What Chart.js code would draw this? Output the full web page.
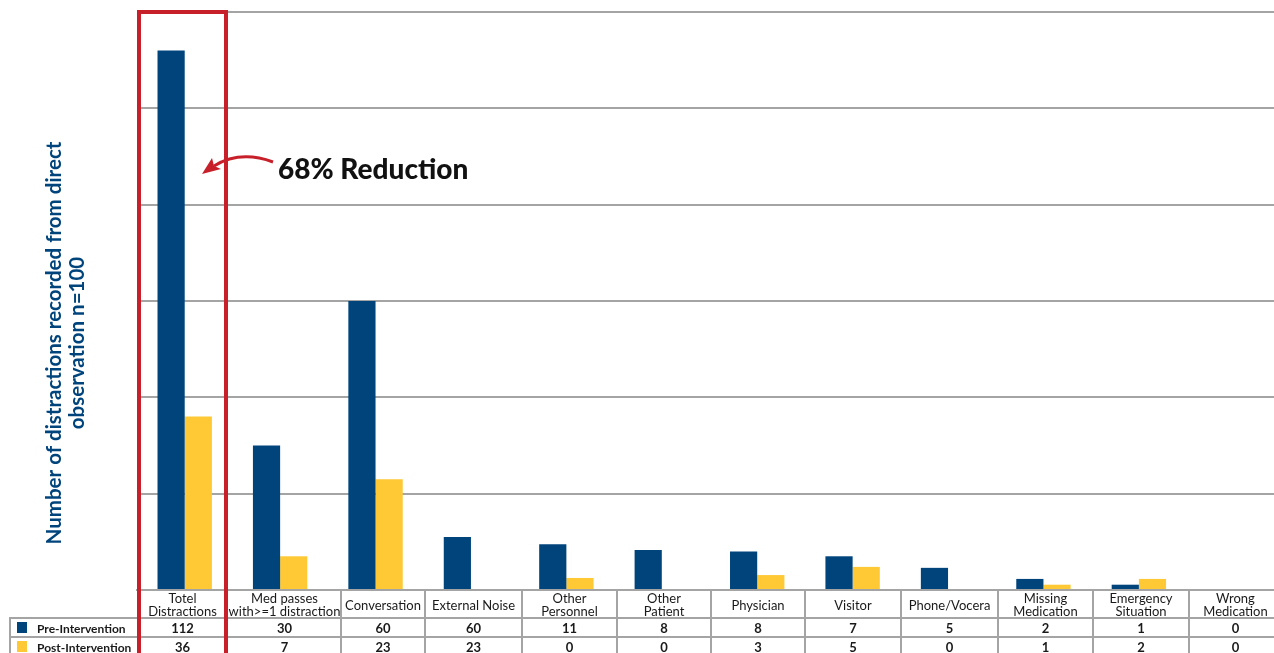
<!DOCTYPE html>
<html>
<head>
<meta charset="utf-8">
<script src="https://cdn.jsdelivr.net/npm/chart.js@4.4.1/dist/chart.umd.min.js"></script>
<style>
  html, body { margin: 0; padding: 0; background: #fff; overflow: hidden; }
  #wrap { position: relative; width: 1282px; height: 653px; }
</style>
</head>
<body>
<div id="wrap"><canvas id="grafik"></canvas></div>
<script>
// data
const categories = [
  ['Totel', 'Distractions'],
  ['Med passes', 'with>=1 distraction'],
  ['Conversation'],
  ['External Noise'],
  ['Other', 'Personnel'],
  ['Other', 'Patient'],
  ['Physician'],
  ['Visitor'],
  ['Phone/Vocera'],
  ['Missing', 'Medication'],
  ['Emergency', 'Situation'],
  ['Wrong', 'Medication']
];
const preValues = [112, 30, 60, 11, 9.5, 8.3, 8, 7, 4.6, 2.3, 1.1, 0];
const postValues = [36, 7, 23, 0, 2.5, 0, 3.1, 4.8, 0, 1.1, 2.3, 0];
const tablePre = ['112', '30', '60', '60', '11', '8', '8', '7', '5', '2', '1', '0'];
const tablePost = ['36', '7', '23', '23', '0', '0', '3', '5', '0', '1', '2', '0'];
const seriesNames = ['Pre-Intervention', 'Post-Intervention'];
const yMax = 120;
const yStep = 20;

const BLUE = '#00447c';
const YELLOW = '#fec934';
const RED = '#c8202a';
const GRID = '#a4a4a4';
const FONT = 'Lato, "Open Sans", sans-serif';

// table column edges (layout only)
const colEdges = [137, 228, 341, 425, 522, 617, 711, 805, 901, 998, 1093, 1189, 1282];

const extras = {
  id: 'extras',
  afterDraw(chart) {
    const c = chart.ctx;
    const axisY = chart.scales.y.getPixelForValue(0);
    const row1 = 618, row2 = 637, bottom = 656;
    c.save();

    // table lines
    c.strokeStyle = GRID;
    c.lineWidth = 2;
    c.beginPath();
    c.moveTo(9, row1); c.lineTo(1282, row1);
    c.moveTo(9, row2); c.lineTo(1282, row2);
    c.moveTo(10, row1); c.lineTo(10, bottom);
    for (let i = 2; i < colEdges.length - 1; i++) {
      c.moveTo(colEdges[i], axisY); c.lineTo(colEdges[i], bottom);
    }
    c.stroke();

    // header labels
    c.fillStyle = '#1a1a1a';
    c.textAlign = 'center';
    c.textBaseline = 'alphabetic';
    c.font = '13px ' + FONT;
    categories.forEach((lines, i) => {
      const cx = (colEdges[i] + colEdges[i + 1]) / 2;
      if (lines.length === 1) {
        c.fillText(lines[0], cx, 610);
      } else {
        c.fillText(lines[0], cx, 603);
        c.fillText(lines[1], cx, 616);
      }
    });

    // table values
    c.font = 'bold 13px ' + FONT;
    tablePre.forEach((v, i) => {
      const cx = (colEdges[i] + colEdges[i + 1]) / 2;
      c.fillText(v, cx, 633);
      c.fillText(tablePost[i], cx, 652);
    });

    // legend cells
    c.textAlign = 'left';
    c.fillStyle = BLUE;
    c.fillRect(17, 622, 10, 11);
    c.fillStyle = YELLOW;
    c.fillRect(17, 641, 10, 11);
    c.fillStyle = '#1a1a1a';
    c.font = 'bold 12px ' + FONT;
    c.fillText(seriesNames[0], 37, 633);
    c.fillText(seriesNames[1], 37, 652);

    // red box
    c.strokeStyle = RED;
    c.lineWidth = 4;
    c.strokeRect(139, 12, 87, 660);

    // arrow
    c.lineWidth = 3;
    c.beginPath();
    c.moveTo(273, 162);
    c.quadraticCurveTo(240, 150, 214, 166);
    c.stroke();
    c.fillStyle = RED;
    c.beginPath();
    c.moveTo(202, 174);
    c.lineTo(212, 158);
    c.lineTo(214, 166);
    c.lineTo(221, 169);
    c.closePath();
    c.fill();

    // annotation
    c.fillStyle = '#111';
    c.font = '900 28px ' + FONT;
    c.fillText('68% Reduction', 278, 179);

    // y title
    c.translate(66, 343);
    c.rotate(-Math.PI / 2);
    c.textAlign = 'center';
    c.fillStyle = BLUE;
    c.font = 'bold 20.5px ' + FONT;
    c.fillText('Number of distractions recorded from direct', 0, -5);
    c.fillText('observation n=100', 0, 18);
    c.restore();
  }
};

function init() {
  const ctx = document.getElementById('grafik').getContext('2d');
  new Chart(ctx, {
    type: 'bar',
    data: {
      labels: categories.map(l => l.join(' ')),
      datasets: [
        { label: seriesNames[0], data: preValues, backgroundColor: BLUE },
        { label: seriesNames[1], data: postValues, backgroundColor: YELLOW }
      ]
    },
    options: {
      responsive: true,
      maintainAspectRatio: false,
      animation: false,
      layout: { padding: { left: 137, top: 12, right: 0, bottom: 55 } },
      datasets: { bar: { categoryPercentage: 0.57, barPercentage: 1 } },
      scales: {
        x: {
          grid: { display: false },
          ticks: { display: false },
          border: { color: GRID, width: 2 }
        },
        y: {
          min: 0,
          max: yMax,
          ticks: { display: false, stepSize: yStep },
          grid: { color: GRID, lineWidth: 2, drawTicks: false },
          border: { display: false }
        }
      },
      plugins: {
        legend: { display: false },
        tooltip: { enabled: false }
      }
    },
    plugins: [extras]
  });
}

document.addEventListener('DOMContentLoaded', init);
</script>
</body>
</html>
